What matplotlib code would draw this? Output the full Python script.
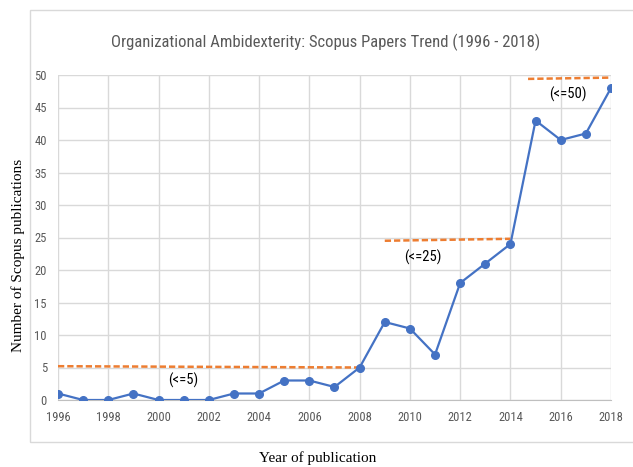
import matplotlib
matplotlib.use("Agg")
import matplotlib.pyplot as plt
from matplotlib.patches import Rectangle

years = list(range(1996, 2019))
papers = [1, 0, 0, 1, 0, 0, 0, 1, 1, 3, 3, 2, 5, 12, 11, 7, 18, 21, 24, 43, 40, 41, 48]

thresh_x = [[1996, 2008], [2009, 2014], [2014.7, 2018]]
thresh_y = [[5.2, 5.0], [24.5, 24.8], [49.4, 49.6]]
thresh_labels = ["(<=5)", "(<=25)", "(<=50)"]
label_pos = [(2001, 3.0), (2010.5, 22.0), (2016.3, 47.0)]

x_ticks = list(range(1996, 2019, 2))
y_ticks = list(range(0, 51, 5))

narrow = ["Liberation Sans Narrow", "Roboto Condensed", "DejaVu Sans"]

fig = plt.figure(figsize=(6.33, 4.67), dpi=100)
fig.patches.append(Rectangle((30/633, 1-442/467), 1.0, (442-10)/467,
                             transform=fig.transFigure, fill=False,
                             edgecolor="#d9d9d9", linewidth=1.0))
ax = fig.add_axes([58/633, 1-400/467, (611-58)/633, (400-75)/467])

ax.plot(years, papers, color="#4472c4", linewidth=1.6, marker="o",
        markersize=5.5, zorder=3)
for xs, ys in zip(thresh_x, thresh_y):
    ax.plot(xs, ys, color="#ed7d31", linewidth=1.8, linestyle=(0, (2.5, 1.2)), zorder=2)
for txt, (lx, ly) in zip(thresh_labels, label_pos):
    ax.text(lx, ly, txt, ha="center", va="center", fontsize=10.5,
            family=narrow, color="black")

ax.set_xlim(1996, 2018)
ax.set_ylim(0, 50)
ax.set_xticks(x_ticks)
ax.set_yticks(y_ticks)
ax.grid(True, color="#d9d9d9", linewidth=1.0)
ax.set_axisbelow(True)
for s in ["top", "right", "left"]:
    ax.spines[s].set_visible(False)
ax.spines["bottom"].set_color("#bfbfbf")
ax.tick_params(length=0, labelsize=9, labelcolor="#595959", pad=8)
for lab in ax.get_xticklabels() + ax.get_yticklabels():
    lab.set_family(narrow)

fig.text(326/633, 1-42/467, "Organizational Ambidexterity: Scopus Papers Trend (1996 - 2018)",
         ha="center", va="center", fontsize=12, color="#595959", family=narrow)
fig.text(318/633, 1-458/467, "Year of publication", ha="center", va="center",
         fontsize=11, family=["Liberation Serif", "DejaVu Serif"])
fig.text(18/633, 1-255/467, "Number of Scopus publications", ha="center", va="center",
         rotation=90, fontsize=11, family=["Liberation Serif", "DejaVu Serif"])

fig.savefig("out.png", dpi=100)
